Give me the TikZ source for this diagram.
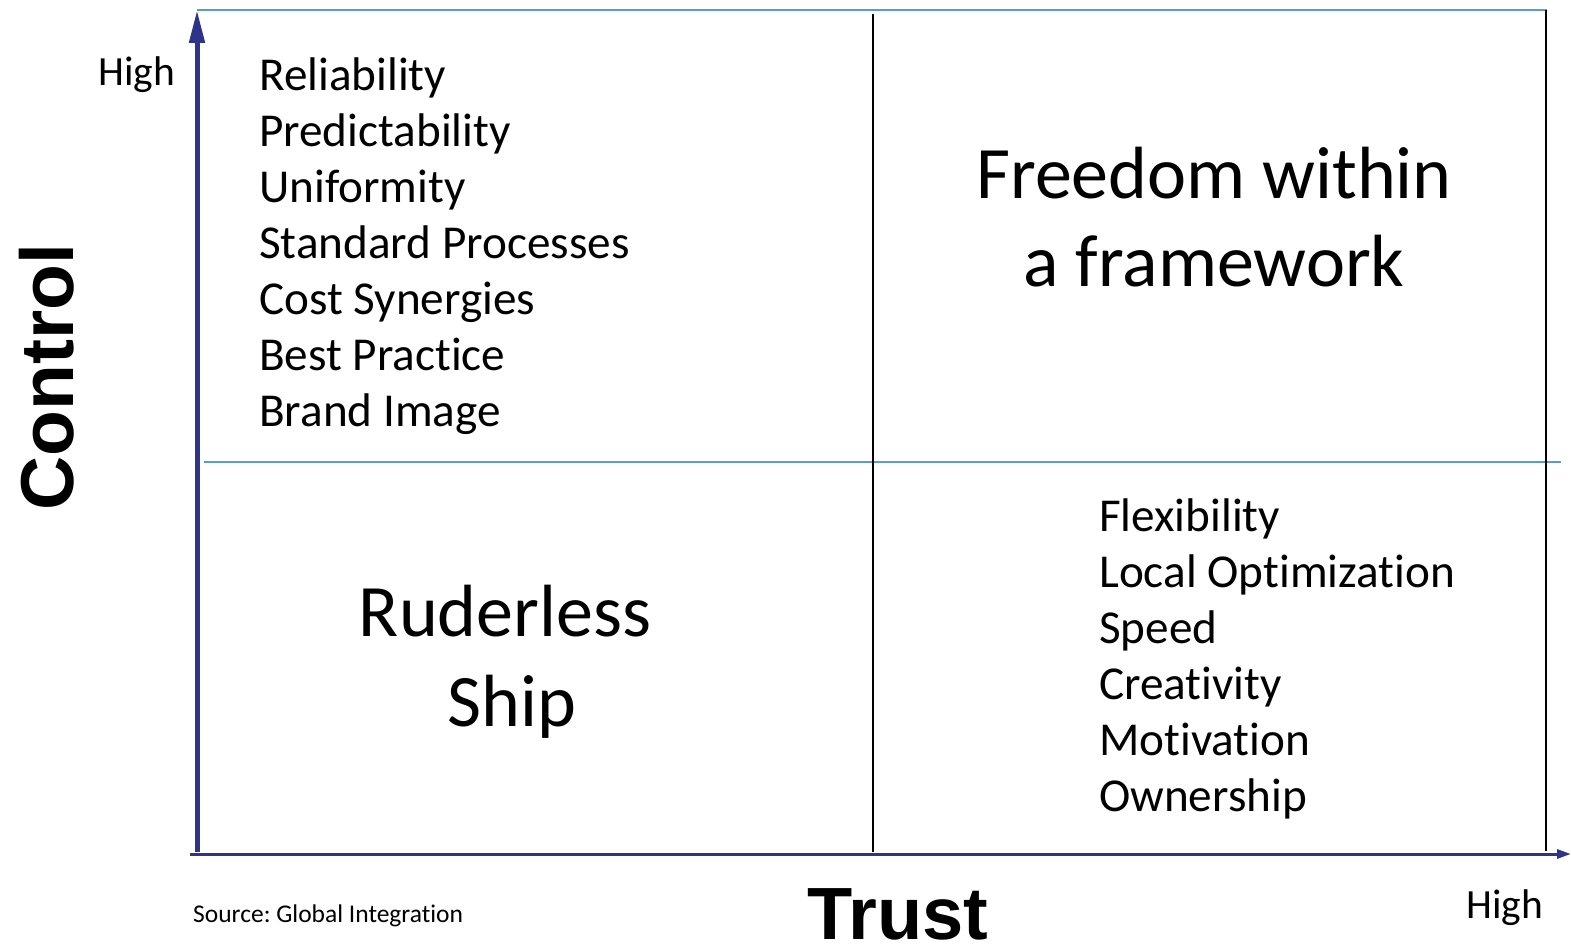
\documentclass[tikz,border=0pt]{standalone}
\usepackage{fontspec}
\setmainfont{Carlito}[Ligatures=NoCommon]
\newfontfamily\axisfont{Liberation Sans}
\usetikzlibrary{arrows.meta}
\definecolor{axisblue}{RGB}{47,52,136}
\definecolor{gridblue}{RGB}{91,155,213}
\newcommand\nolig{\kern0pt{}}
\frenchspacing
\begin{document}
\begin{tikzpicture}[x=1pt,y=-1pt,
  listtext/.style={anchor=base west,inner sep=0pt,font=\fontsize{47.2}{56}\selectfont},
  bigtext/.style={anchor=base,inner sep=0pt,font=\fontsize{74}{88}\selectfont},
  axisline/.style={draw=axisblue},
  gridline/.style={draw=gridblue,line width=2pt},
  divline/.style={draw=black}]
\useasboundingbox (0,0) rectangle (1571,950);
% grid lines
\draw[gridline] (197,10) -- (1547,10);
\draw[gridline] (204,462) -- (1561,462);
\draw[divline,line width=2pt] (1546,10) -- (1546,851);
\draw[divline,line width=1.5pt] (873,14) -- (873,852);
% axes
\draw[axisline,line width=5pt,-{Triangle[width=15pt,length=33pt]}] (197,852) -- (197,10);
\draw[axisline,line width=3pt,-{Triangle[width=9pt,length=14pt]}] (190,854) -- (1571,854);
% axis labels
\node[anchor=base,inner sep=0pt,font=\axisfont\bfseries\fontsize{75}{80}\selectfont,rotate=90] (control) at (73,377) {Control};
\node[anchor=base,inner sep=0pt,font=\axisfont\bfseries\fontsize{74}{80}\selectfont] (trust) at (898,939) {Trust};
\node[anchor=base west,inner sep=0pt,font=\fontsize{41.5}{44}\selectfont] (highy) at (98,85) {High};
\node[anchor=base west,inner sep=0pt,font=\fontsize{41.5}{44}\selectfont] (highx) at (1466,918) {High};
\node[anchor=base west,inner sep=0pt,font=\fontsize{25.5}{28}\selectfont] (source) at (193,922) {Source: Global Integrat\nolig ion};
% top-left list
\node[listtext] (l1) at (259,90) {Reliability};
\node[listtext] (l2) at (259,146) {Predictability};
\node[listtext] (l3) at (259,202) {Uniformity};
\node[listtext] (l4) at (259,258) {Standard Processes};
\node[listtext] (l5) at (259,314) {Cost Synergies};
\node[listtext] (l6) at (259,370) {Best Pract\nolig ice};
\node[listtext] (l7) at (259,426) {Brand Image};
% bottom-right list
\node[listtext] (r1) at (1099,531) {Flexibility};
\node[listtext] (r2) at (1099,587) {Local Opt\nolig imizat\nolig ion};
\node[listtext] (r3) at (1099,643) {Speed};
\node[listtext] (r4) at (1099,699) {Creat\nolig ivity};
\node[listtext] (r5) at (1099,755) {Mot\nolig ivat\nolig ion};
\node[listtext] (r6) at (1099,811) {Ownership};
% big quadrant texts
\node[bigtext] (f1) at (1214,198) {Freedom within};
\node[bigtext] (f2) at (1214,286) {a framework};
\node[bigtext] (s1) at (505,636) {Ruderless};
\node[bigtext] (s2) at (512,726) {Ship};
\end{tikzpicture}
\end{document}
